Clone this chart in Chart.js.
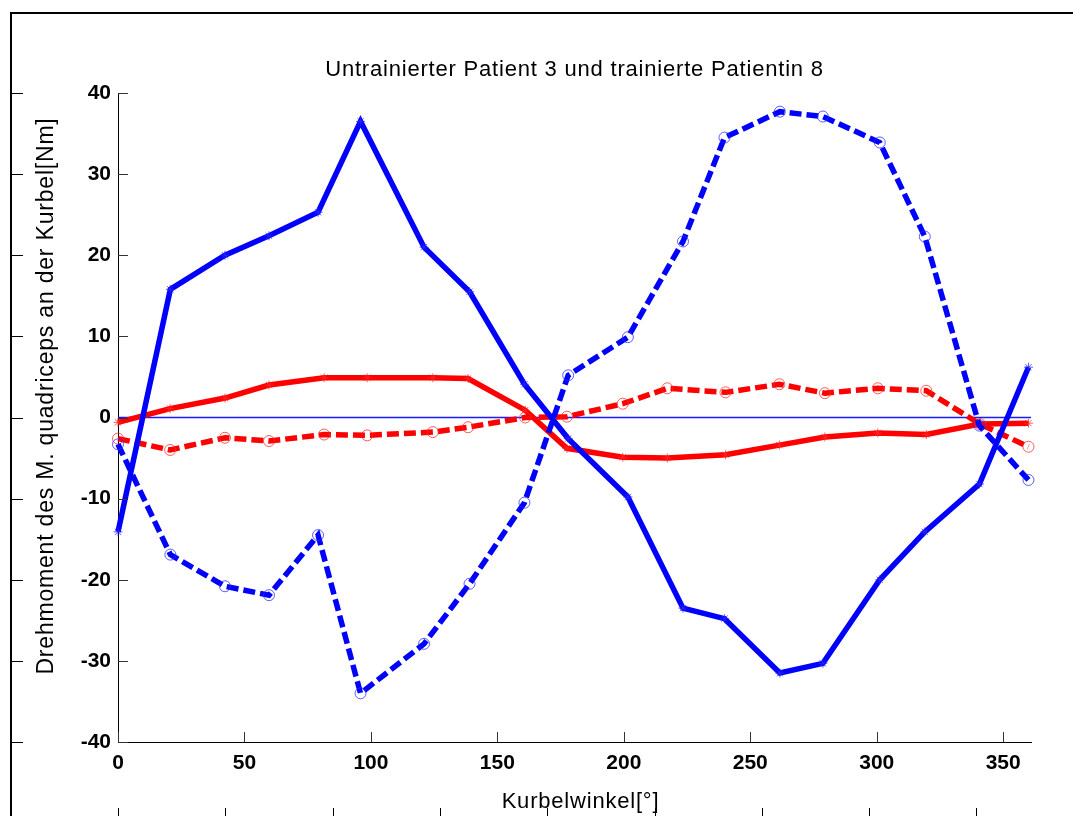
<!DOCTYPE html>
<html>
<head>
<meta charset="utf-8">
<script src="https://cdn.jsdelivr.net/npm/chart.js@4.4.1/dist/chart.umd.min.js"></script>
<style>
  html, body { margin: 0; padding: 0; background: #fff; }
  #wrap { width: 1073px; height: 816px; }
</style>
</head>
<body>
<div id="wrap"><canvas id="torqueChart" width="1073" height="816"></canvas></div>
<script>
// crank angle samples [deg] for each patient
const anglesBlue = [0, 20.7, 42.3, 59.7, 79.1, 95.9, 121, 139, 160.7, 178, 201.6, 223.4, 239.8, 261.7, 278.7, 301.2, 319, 340.6, 360];
const anglesRed = [0, 20.6, 42.3, 59.7, 81.5, 98.5, 124.5, 138.4, 161, 177.5, 199.6, 217.2, 240.2, 261.5, 279.5, 300.4, 319.6, 340.8, 360];

// torque [Nm]
const blueSolid = [-14.1, 15.8, 20.0, 22.4, 25.3, 36.5, 21.0, 15.5, 4.1, -2.6, -9.8, -23.5, -24.8, -31.5, -30.3, -20.0, -14.1, -8.2, 6.2];
const blueDashed = [-3.3, -16.9, -20.8, -21.9, -14.5, -34.0, -27.9, -20.5, -10.5, 5.2, 9.9, 21.7, 34.5, 37.7, 37.1, 33.9, 22.3, -1.0, -7.7];
const redSolid = [-0.6, 1.1, 2.4, 4.0, 4.9, 4.9, 4.9, 4.8, 0.9, -3.8, -4.9, -5.0, -4.6, -3.4, -2.4, -1.9, -2.1, -0.8, -0.7];
const redDashed = [-2.6, -4.0, -2.5, -2.9, -2.1, -2.2, -1.8, -1.2, 0.0, 0.1, 1.7, 3.6, 3.1, 4.1, 3.0, 3.6, 3.3, -0.8, -3.6];

const xTicks = [0, 50, 100, 150, 200, 250, 300, 350];
const yTicks = [-40, -30, -20, -10, 0, 10, 20, 30, 40];

const titleText = 'Untrainierter Patient 3 und trainierte Patientin 8';
const xLabel = 'Kurbelwinkel[°]';
const yLabel = 'Drehmoment des M. quadriceps an der Kurbel[Nm]';

function pairs(xs, ys) {
    return ys.map((y, i) => ({ x: xs[i], y: y }));
}

function series(xs, ys, color, dashed, order) {
    return {
        data: pairs(xs, ys),
        borderColor: color,
        borderWidth: 5.5,
        borderDash: dashed ? [12, 5] : [],
        pointStyle: dashed ? 'circle' : 'star',
        pointRadius: dashed ? 5.5 : 4.5,
        pointBorderWidth: 1,
        pointBorderColor: color === 'blue' ? 'rgba(40,40,255,0.75)' : 'rgba(255,40,40,0.75)',
        pointBackgroundColor: 'rgba(0,0,0,0)',
        fill: false,
        tension: 0,
        clip: false,
        order: order
    };
}

// frame, inward ticks and texts drawn straight on the canvas
const decorations = {
    id: 'decorations',
    afterDraw(chart) {
        const ctx = chart.ctx;
        const xs = chart.scales.x, ys = chart.scales.y;
        const area = chart.chartArea;
        ctx.save();

        // outer frame with its own ticks
        ctx.strokeStyle = '#000';
        ctx.lineWidth = 2;
        ctx.beginPath();
        ctx.moveTo(11, 816);
        ctx.lineTo(11, 13);
        ctx.lineTo(1073, 13);
        ctx.stroke();
        ctx.lineWidth = 1;
        ctx.beginPath();
        yTicks.forEach(v => {
            const y = Math.round(ys.getPixelForValue(v)) + 0.5;
            ctx.moveTo(11, y);
            ctx.lineTo(23, y);
        });
        for (let i = 0; i < 9; i++) {
            const x = Math.round(118 + i * 107.3) + 0.5;
            ctx.moveTo(x, 808);
            ctx.lineTo(x, 816);
        }
        ctx.stroke();

        // inward tick marks
        ctx.strokeStyle = '#333';
        ctx.beginPath();
        xTicks.forEach(v => {
            const x = Math.round(xs.getPixelForValue(v)) + 0.5;
            ctx.moveTo(x, area.bottom);
            ctx.lineTo(x, area.bottom - 10);
        });
        yTicks.forEach(v => {
            const y = Math.round(ys.getPixelForValue(v)) + 0.5;
            ctx.moveTo(area.left, y);
            ctx.lineTo(area.left + 10, y);
        });
        ctx.stroke();

        ctx.fillStyle = '#000';
        ctx.font = '22px "Liberation Sans", Arial, sans-serif';
        ctx.letterSpacing = '0.8px';
        ctx.textAlign = 'center';
        ctx.textBaseline = 'alphabetic';
        ctx.fillText(titleText, (area.left + area.right) / 2, 76);
        ctx.fillText(xLabel, (area.left + area.right) / 2 + 6, 808);

        ctx.font = '23px "Liberation Sans", Arial, sans-serif';
        ctx.translate(53, 396);
        ctx.rotate(-Math.PI / 2);
        ctx.fillText(yLabel, 0, 0);
        ctx.restore();
    }
};

new Chart(document.getElementById('torqueChart'), {
    type: 'line',
    data: {
        datasets: [
            series(anglesBlue, blueDashed, 'blue', true, 0),
            series(anglesBlue, blueSolid, 'blue', false, 1),
            series(anglesRed, redDashed, 'red', true, 2),
            series(anglesRed, redSolid, 'red', false, 3),
            {
                // zero reference line
                data: [{ x: 0, y: 0 }, { x: 361, y: 0 }],
                borderColor: '#1a1aff',
                borderWidth: 1.4,
                pointRadius: 0,
                order: 4
            }
        ]
    },
    options: {
        responsive: false,
        animation: false,
        devicePixelRatio: 1,
        layout: { padding: { left: 0, top: 93, right: 42, bottom: 0 } },
        plugins: {
            legend: { display: false },
            title: { display: false },
            tooltip: { enabled: false }
        },
        scales: {
            x: {
                type: 'linear',
                min: 0,
                max: 361,
                afterFit: s => { s.height = 74; },
                afterBuildTicks: s => { s.ticks = xTicks.map(v => ({ value: v })); },
                grid: { display: false, drawTicks: false },
                border: { display: true, color: '#000', width: 1 },
                ticks: {
                    color: '#000',
                    padding: 9,
                    maxRotation: 0,
                    autoSkip: false,
                    font: { family: '"Liberation Sans", Arial, sans-serif', size: 21, weight: 'bold' }
                }
            },
            y: {
                min: -40,
                max: 40,
                afterFit: s => { s.width = 118; },
                afterBuildTicks: s => { s.ticks = yTicks.map(v => ({ value: v })); },
                grid: { display: false, drawTicks: false },
                border: { display: true, color: '#000', width: 1 },
                ticks: {
                    color: '#000',
                    padding: 7,
                    autoSkip: false,
                    font: { family: '"Liberation Sans", Arial, sans-serif', size: 21, weight: 'bold' }
                }
            }
        }
    },
    plugins: [decorations]
});
</script>
</body>
</html>
